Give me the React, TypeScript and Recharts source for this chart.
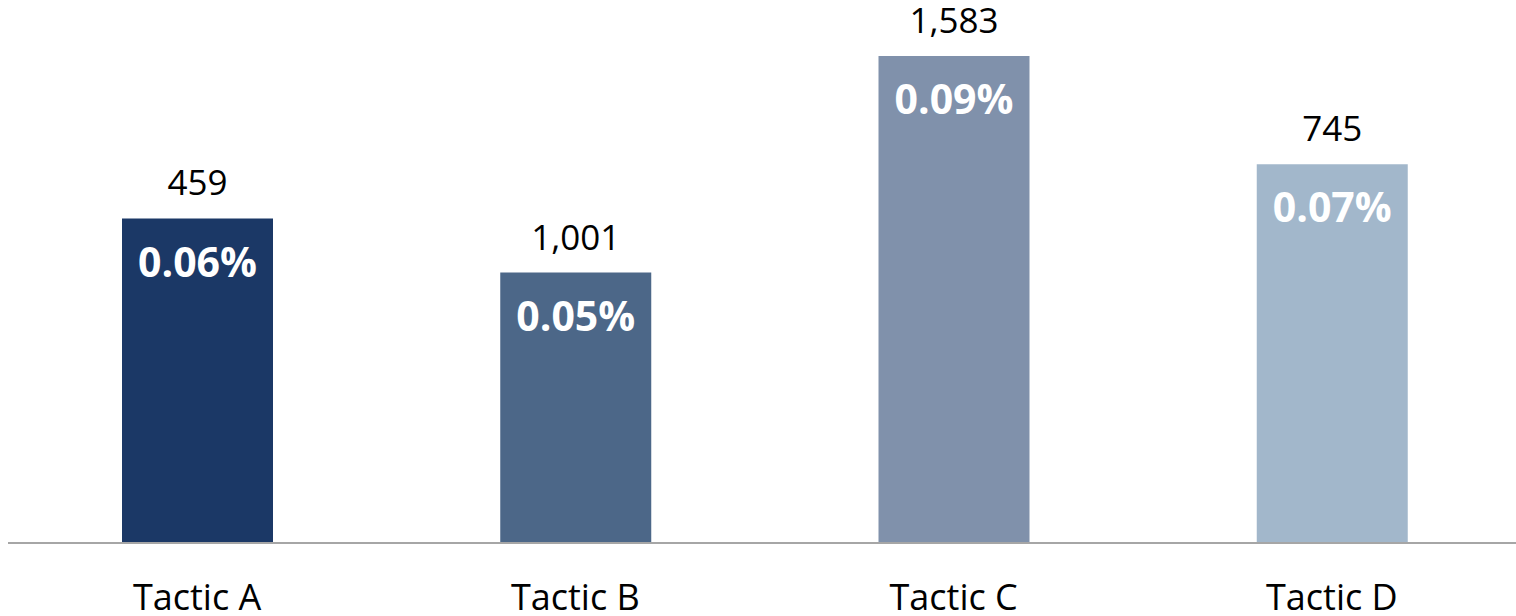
import { Bar, BarChart, Cell, LabelList, XAxis, YAxis } from "recharts";

const tactics = ["Tactic A", "Tactic B", "Tactic C", "Tactic D"];
const rates = [0.06, 0.05, 0.09, 0.07];
const counts = [459, 1001, 1583, 745];
const colors = ["#1B3866", "#4C6788", "#8091AB", "#A2B7CB"];

const data = tactics.map((name, i) => ({
  name,
  rate: rates[i],
  count: counts[i],
}));

const font = "'Open Sans', sans-serif";

export default function App() {
  return (
    <div style={{ position: "absolute", left: 0, top: 0, width: 1516, height: 616, overflow: "hidden", background: "#fff" }}>
      <BarChart
        width={1521}
        height={616}
        data={data}
        margin={{ top: 2, right: 0, left: 8, bottom: 0 }}
        barCategoryGap="30%"
      >
        <XAxis
          dataKey="name"
          height={73}
          tickLine={false}
          axisLine={{ stroke: "#A6A6A6", strokeWidth: 2 }}
          tickMargin={35}
          tick={{ fill: "#000", fontSize: 36, fontFamily: font }}
          interval={0}
        />
        <YAxis hide domain={[0, 0.1]} />
        <Bar dataKey="rate" barSize={151} isAnimationActive={false}>
          {data.map((d, i) => (
            <Cell key={d.name} fill={colors[i]} />
          ))}
          <LabelList
            dataKey="count"
            position="top"
            offset={23}
            formatter={(v: number) => v.toLocaleString("en-US")}
            style={{ fill: "#000", fontSize: 35, fontFamily: font }}
          />
          <LabelList
            dataKey="rate"
            position="insideTop"
            offset={29}
            formatter={(v: number) => `${v.toFixed(2)}%`}
            style={{ fill: "#fff", fontSize: 41, fontWeight: 700, fontFamily: font }}
          />
        </Bar>
      </BarChart>
    </div>
  );
}
